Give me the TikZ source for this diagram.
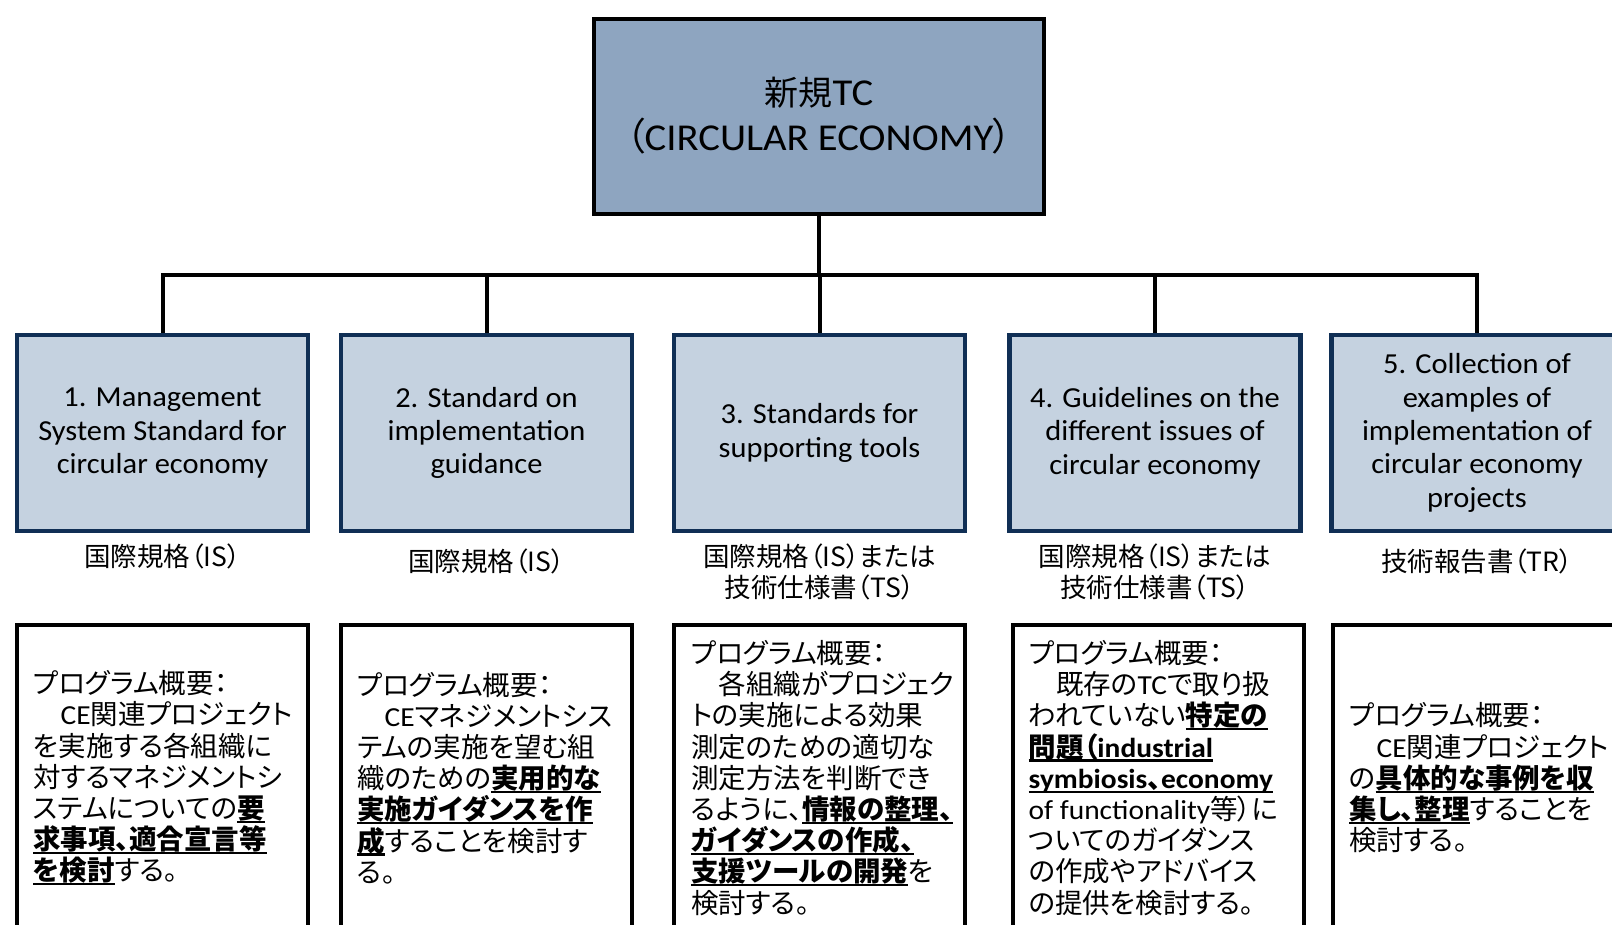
\documentclass[tikz,border=0pt]{standalone}
\usepackage{fontspec}
\setmainfont{Carlito}[FakeStretch=1.05]
\newfontfamily\lat{Carlito}[FakeStretch=1.07]
\newfontfamily\jp[RawFeature=+palt]{Noto Sans CJK JP}
\definecolor{topfill}{RGB}{142,165,192}
\definecolor{midfill}{RGB}{197,210,224}
\definecolor{navy}{RGB}{16,47,85}
\newcommand\ulb[1]{\setbox0\hbox{\bfseries #1}\rlap{\rule[-4.5pt]{\wd0}{2.2pt}}\box0}
\begin{document}
\begin{tikzpicture}[x=1pt,y=-1pt,
  topbox/.style={draw=black, line width=4pt, fill=topfill, minimum width=450pt, minimum height=195pt, inner sep=0pt, align=center, font=\lat\fontsize{38}{45}\selectfont},
  midbox/.style={draw=navy, line width=4.5pt, fill=midfill, minimum width=291pt, minimum height=196pt, inner sep=0pt, align=center, font=\fontsize{29}{33.4}\selectfont},
  botbox/.style={draw=black, line width=4pt, fill=white, minimum width=291pt, minimum height=306pt, inner sep=0pt},
  lab/.style={align=center, inner sep=0pt, font=\jp\fontsize{26.5}{31}\selectfont},
  bt/.style={align=left, inner sep=0pt, anchor=west, font=\jp\fontsize{27.5}{31.2}\selectfont},
  conn/.style={line width=4pt, draw=black}]
\useasboundingbox (0,0) rectangle (1612,924);
\clip (0,0) rectangle (1612,924);
\fill[white] (0,0) rectangle (1612,924);

\coordinate (j) at (819,274.5);

\node[topbox] (top) at (819,116) {{\jp\fontsize{34}{45}\selectfont 新規}TC\\{\jp （}CIRCULAR ECONOMY{\jp ）}};
\node[midbox] (m1) at (162.5,433) {1. Management\\System Standard for\\circular economy};
\node[midbox] (m2) at (486.5,433) {2. Standard on\\implementation\\guidance};
\node[midbox] (m3) at (819.5,433) {3. Standards for\\supporting tools};
\node[midbox] (m4) at (1155,433) {4. Guidelines on the\\different issues of\\circular economy};
\node[midbox] (m5) at (1477,433) {5. Collection of\\examples of\\implementation of\\circular economy\\projects};

\draw[conn] (top.south) -- (j);
\foreach \m in {m1,m2,m3,m4,m5} {\draw[conn] (\m.north) |- (j);}

\node[lab] (l1) at (162.5,556) {国際規格（IS）};
\node[lab] (l2) at (486.5,561) {国際規格（IS）};
\node[lab] (l3) at (819.5,571.5) {国際規格（IS）または\\技術仕様書（TS）};
\node[lab] (l4) at (1155,571.5) {国際規格（IS）または\\技術仕様書（TS）};
\node[lab] (l5) at (1477,561) {技術報告書（TR）};

\node[botbox] (b1) at (162.5,778) {};
\node[botbox] (b2) at (486.5,778) {};
\node[botbox] (b3) at (819.5,778) {};
\node[botbox] (b4) at (1158,778) {};
\node[botbox] (b5) at (1478.5,778) {};

\node[bt] (t1) at ([xshift=18pt]b1.west) {プログラム概要：\\　{\lat CE}関連プロジェクト\\を実施する各組織に\\対するマネジメントシ\\ステムについての\ulb{要}\\\ulb{求事項、適合宣言等}\\\ulb{を検討}する。};
\node[bt] (t2) at ([xshift=18pt]b2.west) {プログラム概要：\\　{\lat CE}マネジメントシス\\テムの実施を望む組\\織のための\ulb{実用的な}\\\ulb{実施ガイダンスを作}\\\ulb{成}することを検討す\\る。};
\node[bt] (t3) at ([xshift=19pt]b3.west) {プログラム概要：\\　各組織がプロジェク\\トの実施による効果\\測定のための適切な\\測定方法を判断でき\\るように、\ulb{情報の整理、}\\\ulb{ガイダンスの作成、}\\\ulb{支援ツールの開発}を\\検討する。};
\node[bt] (t4) at ([xshift=18pt]b4.west) {プログラム概要：\\　既存の{\lat TC}で取り扱\\われていない\ulb{特定の}\\\ulb{問題（{\lat industrial}}\\\ulb{{\lat symbiosis}、{\lat economy}}\\{\lat of functionality}等）に\\ついてのガイダンス\\の作成やアドバイス\\の提供を検討する。};
\node[bt] (t5) at ([xshift=18pt]b5.west) {プログラム概要：\\　{\lat CE}関連プロジェクト\\の\ulb{具体的な事例を収}\\\ulb{集し、整理}することを\\検討する。};
\end{tikzpicture}
\end{document}
